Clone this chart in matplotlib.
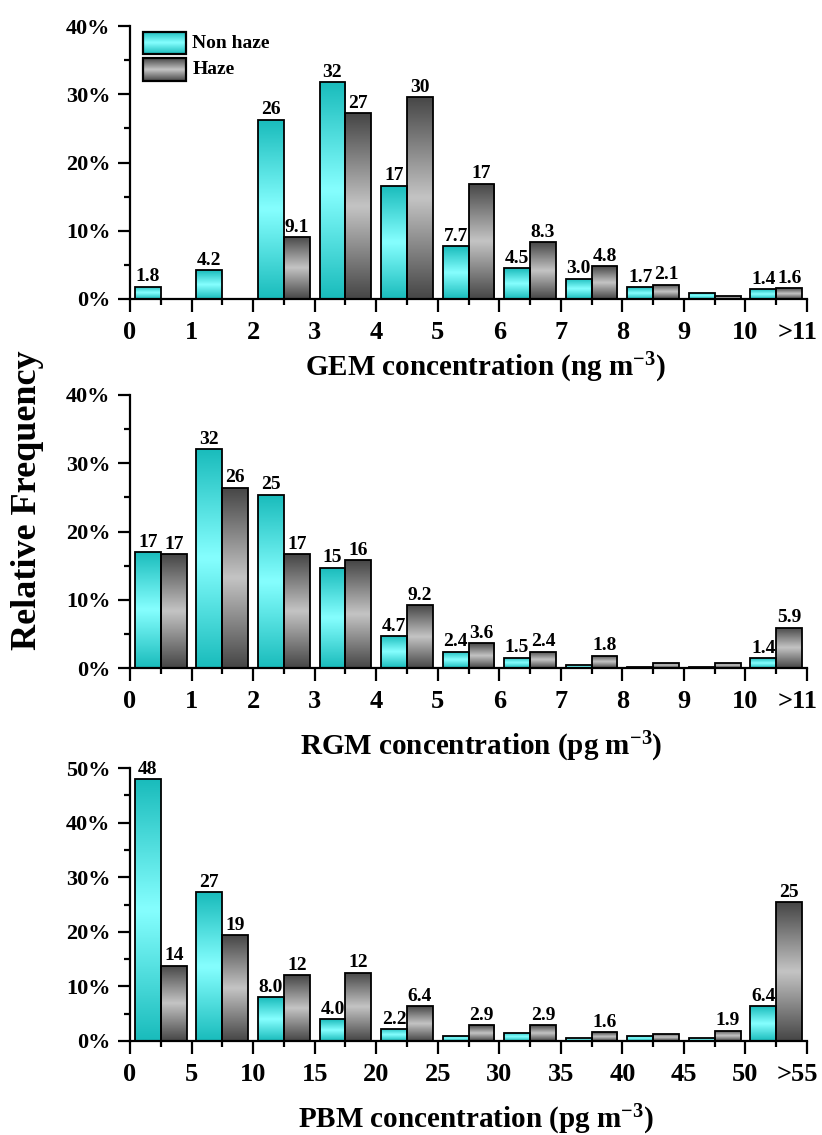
import numpy as np
import matplotlib.pyplot as plt
from matplotlib.colors import to_rgb
from matplotlib.patches import Rectangle
from matplotlib.ticker import MultipleLocator, FixedLocator, FuncFormatter

plt.rcParams['font.family'] = 'Liberation Serif'
plt.rcParams['font.weight'] = 'bold'
plt.rcParams['mathtext.default'] = 'regular'

# GEM (ng m-3)
gem_ticks = ['0', '1', '2', '3', '4', '5', '6', '7', '8', '9', '10', '>11']
gem_nonhaze = [1.8, 4.2, 26.3, 31.8, 16.6, 7.7, 4.5, 3.0, 1.7, 0.9, 1.4]
gem_haze = [0, 0, 9.1, 27.2, 29.6, 16.9, 8.3, 4.8, 2.1, 0.5, 1.6]
gem_nonhaze_lbl = ['1.8', '4.2', '26', '32', '17', '7.7', '4.5', '3.0', '1.7', '', '1.4']
gem_haze_lbl = ['', '', '9.1', '27', '30', '17', '8.3', '4.8', '2.1', '', '1.6']

# RGM (pg m-3)
rgm_ticks = ['0', '1', '2', '3', '4', '5', '6', '7', '8', '9', '10', '>11']
rgm_nonhaze = [17.0, 32.1, 25.4, 14.7, 4.7, 2.4, 1.5, 0.5, 0.2, 0.2, 1.4]
rgm_haze = [16.7, 26.4, 16.7, 15.8, 9.2, 3.6, 2.4, 1.8, 0.8, 0.8, 5.9]
rgm_nonhaze_lbl = ['17', '32', '25', '15', '4.7', '2.4', '1.5', '', '', '', '1.4']
rgm_haze_lbl = ['17', '26', '17', '16', '9.2', '3.6', '2.4', '1.8', '', '', '5.9']

# PBM (pg m-3)
pbm_ticks = ['0', '5', '10', '15', '20', '25', '30', '35', '40', '45', '50', '>55']
pbm_nonhaze = [48.0, 27.2, 8.0, 4.0, 2.2, 1.0, 1.5, 0.6, 1.0, 0.5, 6.4]
pbm_haze = [13.8, 19.4, 12.0, 12.5, 6.4, 2.9, 2.9, 1.6, 1.3, 1.9, 25.4]
pbm_nonhaze_lbl = ['48', '27', '8.0', '4.0', '2.2', '', '', '', '', '', '6.4']
pbm_haze_lbl = ['14', '19', '12', '12', '6.4', '2.9', '2.9', '1.6', '', '1.9', '25']

cyan_edge, cyan_mid = '#1abcbc', '#86ffff'
gray_edge, gray_mid = '#474747', '#c4c4c4'

TICK_LEN, TICK_PAD, XT_SIZE = 9, 7, 19


def grad_img(edge, mid):
    t = np.linspace(0, 1, 64)
    w = 1 - np.abs(2 * t - 1)
    c0 = np.array(to_rgb(edge))
    c1 = np.array(to_rgb(mid))
    return (c0[None, :] * (1 - w[:, None]) + c1[None, :] * w[:, None])[:, None, :]


def gradient_bars(ax, x, heights, edge, mid):
    bars = ax.bar(x, heights, width=0.42, facecolor='none', edgecolor='black',
                  linewidth=1.3, zorder=3)
    img = grad_img(edge, mid)
    for b in bars:
        if b.get_height() <= 0:
            continue
        x0 = b.get_x()
        im = ax.imshow(img, extent=[x0, x0 + b.get_width(), 0, b.get_height()],
                       aspect='auto', origin='lower', interpolation='bilinear', zorder=2)
        im.set_clip_path(b)
    return bars


def draw_panel(ax, nonhaze, haze, nh_lbl, h_lbl, ticks, ymax):
    n = len(nonhaze)
    idx = np.arange(n)
    b1 = gradient_bars(ax, idx + 0.29, nonhaze, cyan_edge, cyan_mid)
    b2 = gradient_bars(ax, idx + 0.71, haze, gray_edge, gray_mid)
    for bars, lbls in [(b1, nh_lbl), (b2, h_lbl)]:
        for b, s in zip(bars, lbls):
            if s:
                ax.annotate(s, (b.get_x() + b.get_width() / 2, b.get_height()),
                            xytext=(0, 1), textcoords='offset points',
                            ha='center', va='bottom', fontsize=14)
    ax.set_xlim(0, n)
    ax.set_ylim(0, ymax)
    ax.xaxis.set_major_locator(FixedLocator(np.arange(len(ticks))))
    # last label (">11", ">55") sits a bit left of its tick, as in the original
    ax.set_xticklabels(ticks[:-1] + [''])
    ax.annotate(ticks[-1], (n, 0), xycoords=('data', 'axes fraction'),
                xytext=(-7, -(TICK_LEN + TICK_PAD)), textcoords='offset points',
                ha='center', va='top', fontsize=XT_SIZE, annotation_clip=False)
    ax.xaxis.set_minor_locator(FixedLocator(idx + 0.5))
    ax.yaxis.set_major_locator(MultipleLocator(10))
    ax.yaxis.set_minor_locator(MultipleLocator(5))
    ax.yaxis.set_major_formatter(FuncFormatter(lambda v, _: f'{v:.0f}%'))
    ax.spines['top'].set_visible(False)
    ax.spines['right'].set_visible(False)
    ax.spines['left'].set_linewidth(1.6)
    ax.spines['bottom'].set_linewidth(1.6)
    ax.tick_params(which='major', direction='out', length=TICK_LEN, width=1.6)
    ax.tick_params(which='minor', direction='out', length=4.5, width=1.6)
    ax.tick_params(axis='x', which='major', labelsize=XT_SIZE, pad=TICK_PAD)
    ax.tick_params(axis='y', which='major', labelsize=16, pad=5)


fig = plt.figure(figsize=(8.22, 11.35), dpi=100)
W, H = 822, 1135
left, width, height = 130 / W, 677 / W, 273 / H

ax1 = fig.add_axes([left, 1 - 299 / H, width, height])
ax2 = fig.add_axes([left, 1 - 668 / H, width, height])
ax3 = fig.add_axes([left, 1 - 1041 / H, width, height])

draw_panel(ax1, gem_nonhaze, gem_haze, gem_nonhaze_lbl, gem_haze_lbl, gem_ticks, 40)
draw_panel(ax2, rgm_nonhaze, rgm_haze, rgm_nonhaze_lbl, rgm_haze_lbl, rgm_ticks, 40)
draw_panel(ax3, pbm_nonhaze, pbm_haze, pbm_nonhaze_lbl, pbm_haze_lbl, pbm_ticks, 50)

# legend drawn by hand so the swatches keep the gradient
for (y0, y1, edge, mid, name) in [(0.897, 0.978, cyan_edge, cyan_mid, 'Non haze'),
                                   (0.799, 0.883, gray_edge, gray_mid, 'Haze')]:
    ax1.imshow(grad_img(edge, mid), extent=[0.019, 0.083, y0, y1], transform=ax1.transAxes,
               aspect='auto', origin='lower', interpolation='bilinear', zorder=4)
    ax1.add_patch(Rectangle((0.019, y0), 0.064, y1 - y0, transform=ax1.transAxes,
                            facecolor='none', edgecolor='black', linewidth=1.6, zorder=5))
    ax1.text(0.092, (y0 + y1) / 2, name, transform=ax1.transAxes, ha='left', va='center',
             fontsize=14)
ax1.set_xlim(0, 11)
ax1.set_ylim(0, 40)

fig.text(485 / W, 1 - 376 / H, 'GEM concentration (ng m$^{-3}$)', ha='center', va='baseline', fontsize=21)
fig.text(481 / W, 1 - 755 / H, 'RGM concentration (pg m$^{-3}$)', ha='center', va='baseline', fontsize=21)
fig.text(476 / W, 1 - 1128 / H, 'PBM concentration (pg m$^{-3}$)', ha='center', va='baseline', fontsize=21)
fig.text(28 / W, 1 - 500 / H, 'Relative Frequency', rotation=90, ha='center', va='center', fontsize=26)

fig.savefig('out.png', dpi=100)
